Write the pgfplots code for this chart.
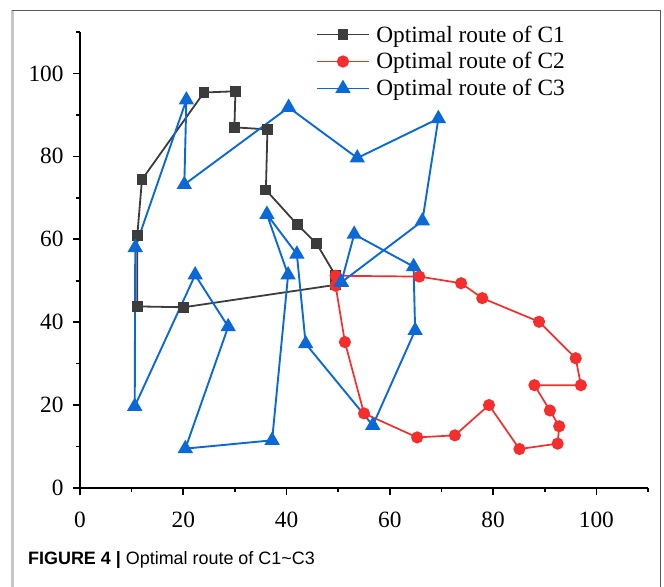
\documentclass[border=0pt]{standalone}
\usepackage{pgfplots}
\pgfplotsset{compat=1.18}
\usepackage{fontspec}
\setmainfont{Liberation Serif}
\newfontfamily\capfont{Liberation Sans}
\definecolor{cone}{RGB}{60,60,60}
\definecolor{ctwo}{RGB}{245,45,45}
\definecolor{cthree}{RGB}{10,105,215}
\begin{document}
\begin{tikzpicture}[x=1bp,y=1bp]
\useasboundingbox (0,0) rectangle (664,587);
\draw[gray!45, line width=2.5bp] (12.5,0) -- (12.5,577);
\draw[gray!70!black, line width=0.8bp] (12,577) -- (660,577) -- (660,0);
\node[anchor=base west, inner sep=0pt] at (28,22.5) {\capfont\fontsize{18}{20}\selectfont\textbf{FIGURE 4 |} Optimal route of C1\textasciitilde C3};
\begin{axis}[
  at={(80bp,99bp)}, anchor=south west, scale only axis,
  width=568bp, height=456bp,
  xmin=0, xmax=110, ymin=0, ymax=110,
  axis lines=left, axis line style={-, line width=1.6bp, black},
  xtick={0,20,...,100}, ytick={0,20,...,100},
  minor xtick={10,30,...,110}, minor ytick={10,30,...,110},
  tick align=outside, major tick length=7bp, minor tick length=4bp,
  every tick/.style={black, line width=1.6bp},
  /pgf/number format/assume math mode=true,
  tick label style={font=\fontsize{23.4}{28}\selectfont},
  xticklabel style={yshift=-13bp},
  yticklabel style={xshift=-6bp},
  legend style={draw=none, fill=none, at={(0.41,1.022)}, anchor=north west,
    font=\fontsize{23.4}{28}\selectfont, row sep=6bp,
    nodes={inner sep=1.5bp},
    /tikz/every odd column/.append style={column sep=5bp}},
  legend cell align=left,
  legend image code/.code={\draw[mark repeat=2,mark phase=2,#1,line width=1.8bp] plot coordinates {(0bp,0bp)(26bp,0bp)(52bp,0bp)};},
]
\addplot[cone, line width=1.8bp, mark=square*, mark size=4.5bp, mark options={solid, fill=cone}] coordinates {
(49.5,49.0) (20.1,43.6) (11.1,43.8) (11.1,61.0) (12.0,74.4) (24.0,95.4) (30.1,95.7) (29.9,87.0) (36.3,86.5) (36.0,71.9) (42.1,63.5) (45.8,59.0) (49.5,51.2)
};
\addlegendentry{Optimal route of C1}
\addplot[ctwo, line width=1.7bp, mark=*, mark size=5.2bp, mark options={solid, fill=ctwo}] coordinates {
(49.5,51.2) (65.7,51.0) (73.8,49.4) (77.9,45.8) (88.9,40.1) (96.0,31.3) (97.0,24.8) (88.0,24.8) (91.0,18.7) (92.8,14.9) (92.5,10.7) (85.1,9.4) (79.2,20.0) (72.6,12.7) (65.3,12.2) (55.0,18.0) (51.3,35.2) (49.5,48.8)
};
\addlegendentry{Optimal route of C2}
\addplot[cthree, line width=1.9bp, mark=triangle*, mark size=7bp, mark options={solid, fill=cthree}] coordinates {
(50.6,49.6) (66.3,64.4) (69.4,89.1) (53.7,79.6) (40.4,91.8) (20.2,73.2) (20.6,93.6) (10.7,58.0) (10.6,19.7) (22.3,51.4) (28.7,38.9) (20.4,9.5) (37.2,11.5) (40.3,51.4) (36.2,66.0) (42.0,56.4) (43.7,34.8) (56.7,15.1) (64.9,38.0) (64.6,53.4) (53.1,61.2) (50.6,49.6)
};
\addlegendentry{Optimal route of C3}
\end{axis}
\end{tikzpicture}
\end{document}
